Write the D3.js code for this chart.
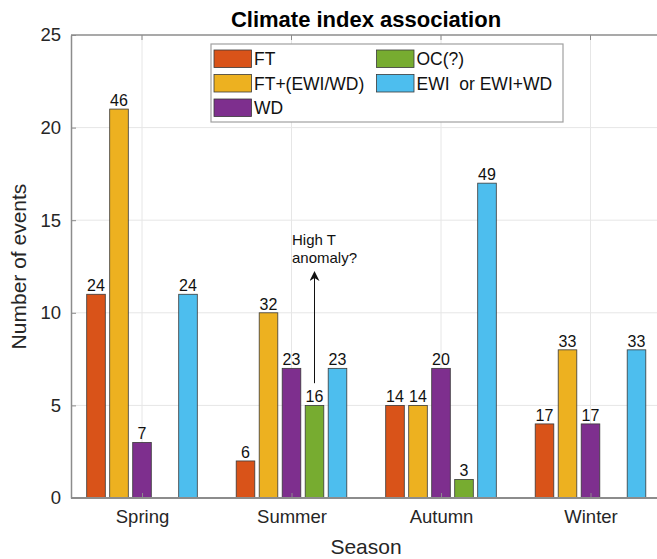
<!DOCTYPE html>
<html>
<head>
<meta charset="utf-8">
<script src="https://cdn.jsdelivr.net/npm/d3@7"></script>
<style>
  html, body { margin: 0; padding: 0; background: #fff; }
  svg { display: block; font-family: "Liberation Sans", Arial, Helvetica, sans-serif; }
</style>
</head>
<body>
<svg id="chart" width="657" height="559"></svg>
<script>
// Seasons on the x axis
const seasons = ["Spring", "Summer", "Autumn", "Winter"];

// Series names and colours (bar order within each season)
const seriesNames = ["FT", "FT+(EWI/WD)", "WD", "OC(?)", "EWI  or EWI+WD"];
const seriesColors = ["#D95319", "#EDB120", "#7E2F8E", "#77AC30", "#4DBEEE"];

// Number of events per season, one array per series
const ftCounts     = [11, 2, 5, 4];
const ftPlusCounts = [21, 10, 5, 8];
const wdCounts     = [3, 7, 7, 4];
const ocCounts     = [0, 5, 1, 0];
const ewiCounts    = [11, 7, 17, 8];

// Labels printed above each bar
const ftLabels     = ["24", "6", "14", "17"];
const ftPlusLabels = ["46", "32", "14", "33"];
const wdLabels     = ["7", "23", "20", "17"];
const ocLabels     = ["", "16", "3", ""];
const ewiLabels    = ["24", "23", "49", "33"];

// Y axis ticks
const yTicks = [0, 5, 10, 15, 20, 25];

// Annotation arrow (data units) over the Summer OC bar
const noteSeason = "Summer";
const noteSeries = 3;
const noteFrom = 6.2;
const noteTo = 12.2;
const noteLines = ["High T", "anomaly?"];

const counts = [ftCounts, ftPlusCounts, wdCounts, ocCounts, ewiCounts];
const labels = [ftLabels, ftPlusLabels, wdLabels, ocLabels, ewiLabels];

const svg = d3.select("#chart");
const textColor = "#262626";
const axisColor = "#8c8c8c";
const gridColor = "#e6e6e6";

// Plot area (right edge runs past the window)
const plotLeft = 71, plotRight = 661, plotTop = 35, plotBottom = 498;

// Season positions 1..4
const x = d3.scaleLinear().domain([1, 4]).range([142, 590.5]);
const xc = s => x(seasons.indexOf(s) + 1);
const groupStep = 23;     // distance between bar centres inside a group
const barW = 18.6;
const offset = i => (i - 2) * groupStep;

const y = d3.scaleLinear().domain([0, 25]).range([plotBottom, plotTop]);

// Grid lines
const grid = svg.append("g");
grid.selectAll("line.h").data(yTicks.slice(1, -1)).join("line")
  .attr("x1", plotLeft).attr("x2", plotRight)
  .attr("y1", d => y(d)).attr("y2", d => y(d))
  .attr("stroke", gridColor).attr("stroke-width", 1);
grid.selectAll("line.v").data(seasons).join("line")
  .attr("x1", d => xc(d)).attr("x2", d => xc(d))
  .attr("y1", plotTop).attr("y2", plotBottom)
  .attr("stroke", gridColor).attr("stroke-width", 1);

// Bars with count labels
const bars = svg.append("g");
counts.forEach((arr, si) => {
  const data = seasons.map((s, i) => ({ s, v: arr[i], label: labels[si][i] })).filter(d => d.v > 0);
  bars.selectAll(null).data(data).join("rect")
    .attr("x", d => xc(d.s) + offset(si) - barW / 2)
    .attr("y", d => y(d.v))
    .attr("width", barW)
    .attr("height", d => y(0) - y(d.v))
    .attr("fill", seriesColors[si])
    .attr("stroke", "#3a3a3a").attr("stroke-width", 0.8);
  bars.selectAll(null).data(data).join("text")
    .attr("x", d => xc(d.s) + offset(si))
    .attr("y", d => y(d.v) - 3)
    .attr("text-anchor", "middle")
    .attr("font-size", 16)
    .attr("fill", "#111")
    .text(d => d.label);
});

// Axes
const yAxis = d3.axisLeft(y).tickValues(yTicks).tickSizeInner(-5).tickSizeOuter(0).tickPadding(10);
const gy = svg.append("g").attr("transform", `translate(${plotLeft},0)`).call(yAxis);
gy.select(".domain").attr("stroke", axisColor).attr("stroke-width", 1.5);
gy.selectAll(".tick line").attr("stroke", axisColor);
gy.selectAll(".tick text").attr("font-size", 18.5).attr("fill", textColor)
  .attr("font-family", "Liberation Sans, Arial, sans-serif");

const xPoint = d3.scalePoint().domain(seasons).range([xc(seasons[0]), xc(seasons[3])]);
const xAxis = d3.axisBottom(xPoint).tickSizeInner(-5).tickSizeOuter(0).tickPadding(12);
const gx = svg.append("g").attr("transform", `translate(0,${plotBottom})`).call(xAxis);
gx.select(".domain").remove();
gx.append("line").attr("x1", plotLeft).attr("x2", plotRight).attr("stroke", axisColor).attr("stroke-width", 2);
gx.selectAll(".tick line").attr("stroke", axisColor);
gx.selectAll(".tick text").attr("font-size", 18.5).attr("fill", textColor)
  .attr("font-family", "Liberation Sans, Arial, sans-serif");

// Top box edge with ticks
const gt = svg.append("g").attr("transform", `translate(0,${plotTop})`);
gt.append("line").attr("x1", plotLeft).attr("x2", plotRight).attr("stroke", axisColor).attr("stroke-width", 1.5);
gt.selectAll("line.t").data(seasons).join("line")
  .attr("x1", d => xc(d)).attr("x2", d => xc(d)).attr("y1", 0).attr("y2", 5)
  .attr("stroke", axisColor);

// Title and axis labels
svg.append("text").attr("x", 366).attr("y", 27)
  .attr("text-anchor", "middle").attr("font-size", 22).attr("font-weight", "bold")
  .attr("fill", "#000").text("Climate index association");
svg.append("text").attr("x", 366).attr("y", 554)
  .attr("text-anchor", "middle").attr("font-size", 21).attr("fill", textColor).text("Season");
svg.append("text").attr("transform", `translate(26,${(plotTop + plotBottom) / 2}) rotate(-90)`)
  .attr("text-anchor", "middle").attr("font-size", 21).attr("fill", textColor).text("Number of events");

// Annotation
const ax = xc(noteSeason) + offset(noteSeries);
svg.append("defs").append("marker")
  .attr("id", "arrowHead").attr("viewBox", "0 0 10 10").attr("refX", 9).attr("refY", 5)
  .attr("markerWidth", 10).attr("markerHeight", 10).attr("markerUnits", "userSpaceOnUse")
  .attr("orient", "auto")
  .append("path").attr("d", "M0,0 L10,5 L0,10 L3,5 Z").attr("fill", "#111");
svg.append("line")
  .attr("x1", ax).attr("x2", ax).attr("y1", y(noteFrom)).attr("y2", y(noteTo))
  .attr("stroke", "#111").attr("stroke-width", 1).attr("marker-end", "url(#arrowHead)");
svg.append("g").selectAll("text").data(noteLines).join("text")
  .attr("x", 292).attr("y", (d, i) => 245 + i * 18)
  .attr("font-size", 15).attr("fill", "#111").text(d => d);

// Legend
const lg = svg.append("g");
lg.append("rect").attr("x", 211).attr("y", 44).attr("width", 352).attr("height", 78)
  .attr("fill", "#fff").attr("stroke", "#a0a0a0").attr("stroke-width", 1.2);
const legendPos = [[214, 50], [214, 74.5], [214, 99], [376.5, 50], [376.5, 74.5]];
seriesNames.forEach((name, i) => {
  const [lx, ly] = legendPos[i];
  lg.append("rect").attr("x", lx).attr("y", ly).attr("width", 37.5).attr("height", 17.5)
    .attr("fill", seriesColors[i]).attr("stroke", "#3a3a3a").attr("stroke-width", 0.8);
  lg.append("text").attr("x", lx + 40).attr("y", ly + 15)
    .attr("font-size", 17.5).attr("fill", "#111")
    .style("white-space", "pre").text(name);
});
</script>
</body>
</html>
